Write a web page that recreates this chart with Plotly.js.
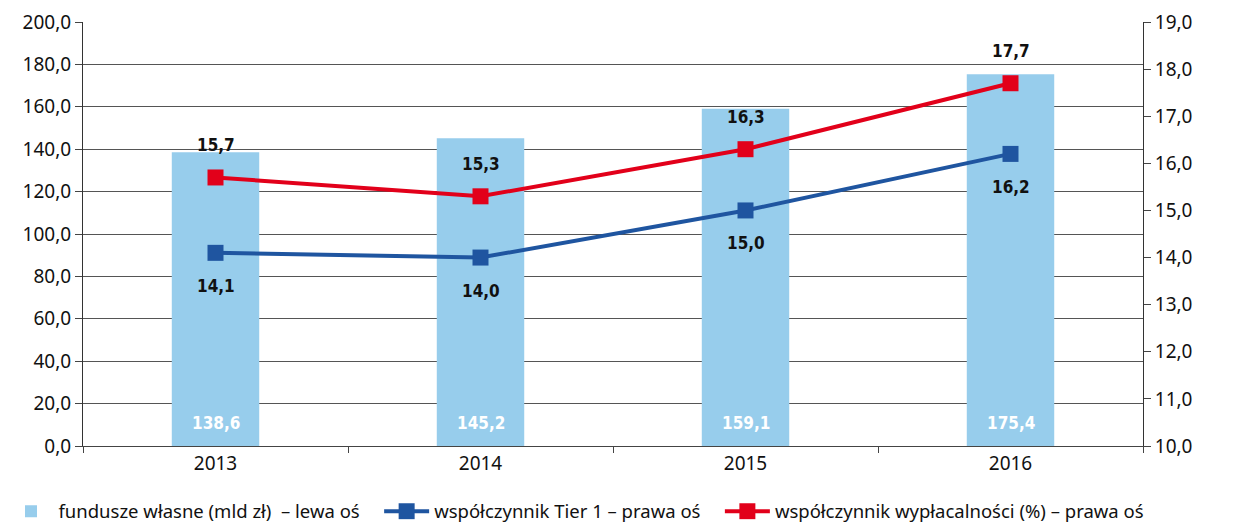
<!DOCTYPE html>
<html>
<head>
<meta charset="utf-8">
<script src="https://cdn.plot.ly/plotly-3.0.1.min.js"></script>
<style>html,body{margin:0;padding:0;background:#fff}#chart{width:1239px;height:524px}</style>
</head>
<body>
<div id="chart"></div>
<script>
const years = ['2013', '2014', '2015', '2016'];
const fundusze = [138.6, 145.2, 159.1, 175.4];
const tier1 = [14.1, 14.0, 15.0, 16.2];
const wyplacalnosc = [15.7, 15.3, 16.3, 17.7];
const seriesNames = ['fundusze własne (mld zł)  – lewa oś', 'współczynnik Tier 1 – prawa oś', 'współczynnik wypłacalności (%) – prawa oś'];

const fmt = v => v.toFixed(1).replace('.', ',');
const pad = '\u00a0\u00a0\u00a0';
const labelFont = {family: '"Liberation Sans Narrow", "DejaVu Sans Condensed", sans-serif', size: 17, color: '#111', weight: 'bold'};

const traces = [
  {
    type: 'bar', x: years, y: fundusze, name: seriesNames[0] + pad,
    marker: {color: '#97CDEC'}, width: 0.33, hoverinfo: 'skip'
  },
  {
    type: 'scatter', mode: 'lines+markers', x: years, y: tier1, yaxis: 'y2',
    name: seriesNames[1] + pad,
    line: {color: '#1F55A0', width: 4}, marker: {symbol: 'square', size: 16, color: '#1F55A0'}
  },
  {
    type: 'scatter', mode: 'lines+markers', x: years, y: wyplacalnosc, yaxis: 'y2',
    name: seriesNames[2],
    line: {color: '#E2001A', width: 4}, marker: {symbol: 'square', size: 16, color: '#E2001A'}
  }
];

const annotations = [];
years.forEach((yr, i) => {
  annotations.push({x: i, y: wyplacalnosc[i], yref: 'y2', xref: 'x', text: fmt(wyplacalnosc[i]),
    showarrow: false, yshift: 32, font: labelFont});
  annotations.push({x: i, y: tier1[i], yref: 'y2', xref: 'x', text: fmt(tier1[i]),
    showarrow: false, yshift: -33, font: labelFont});
  annotations.push({x: i, y: 0, yref: 'y', xref: 'x', text: fmt(fundusze[i]),
    showarrow: false, yshift: 23, font: Object.assign({}, labelFont, {color: '#ffffff'})});
});

const tickFont = {family: '"Noto Sans", "Open Sans", sans-serif', size: 19, color: '#111'};

const layout = {
  width: 1239, height: 524,
  margin: {l: 83, r: 96, t: 22, b: 78, autoexpand: false},
  paper_bgcolor: '#fff', plot_bgcolor: '#fff',
  separators: ', ',
  showlegend: true,
  legend: {orientation: 'h', x: -0.075, xanchor: 'left', y: -0.11, yanchor: 'top',
    font: {family: '"Noto Sans", "Open Sans", sans-serif', size: 18.5, color: '#111'},
    traceorder: 'normal', itemwidth: 45},
  xaxis: {type: 'category', categoryorder: 'array', categoryarray: years,
    range: [-0.5, 3.5], autorange: false, showline: true, linecolor: '#444', linewidth: 1,
    ticks: 'outside', tickson: 'boundaries', ticklen: 6, tickcolor: '#444', tickangle: 0,
    tickfont: tickFont, showgrid: false, fixedrange: true},
  yaxis: {range: [0, 200], dtick: 20, tickformat: '.1f', showline: true, linecolor: '#333',
    ticks: 'outside', ticklen: 7, tickcolor: '#444', gridcolor: '#555', gridwidth: 1,
    tickfont: tickFont, zeroline: false, fixedrange: true},
  yaxis2: {range: [10, 19], dtick: 1, tickformat: '.1f', overlaying: 'y', side: 'right',
    showline: true, linecolor: '#333', ticks: 'outside', ticklen: 7, tickcolor: '#444',
    showgrid: false, tickfont: tickFont, zeroline: false, fixedrange: true},
  annotations: annotations,
  bargap: 0.67
};

Plotly.newPlot('chart', traces, layout, {displayModeBar: false, staticPlot: true});
</script>
</body>
</html>
